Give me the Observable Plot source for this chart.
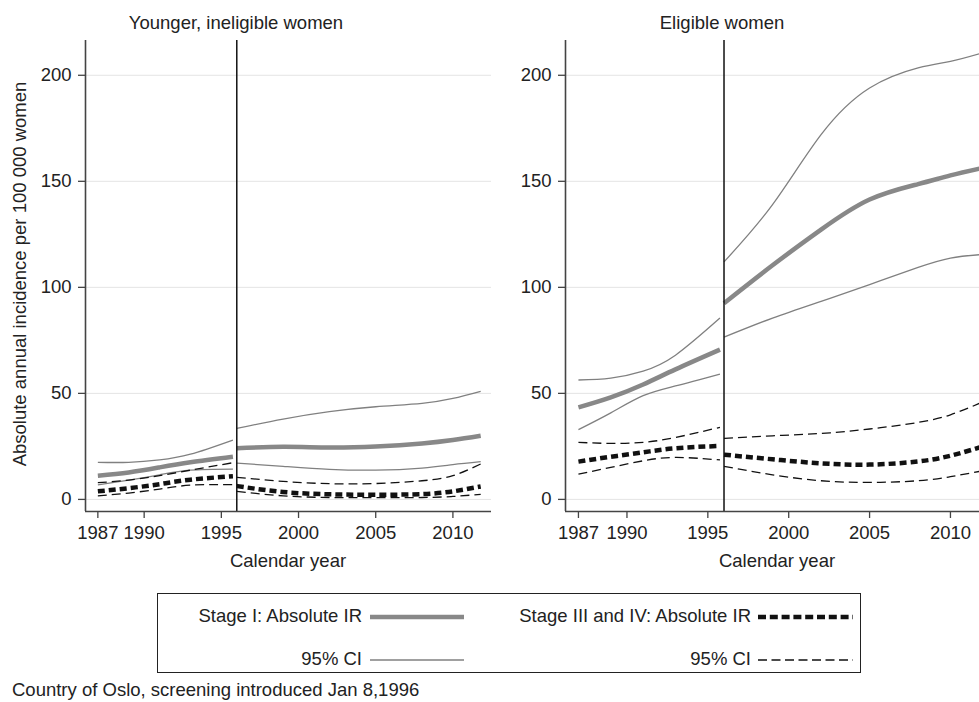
<!DOCTYPE html>
<html>
<head>
<meta charset="utf-8">
<script src="https://cdn.jsdelivr.net/npm/d3@7"></script>
<script src="https://cdn.jsdelivr.net/npm/@observablehq/plot@0.6"></script>
<style>
  html, body { margin: 0; padding: 0; background: #fff; }
  body { width: 979px; height: 702px; overflow: hidden; position: relative;
         font-family: "Liberation Sans", Arial, Helvetica, sans-serif; font-size: 18.5px; color: #222; }
  .abs { position: absolute; white-space: nowrap; }
  .ctr { transform: translate(-50%, -50%); }
  .rt { transform: translate(-100%, -50%); }
  #legend { position: absolute; left: 157px; top: 593px; width: 704px; height: 80px;
            border: 1.5px solid #222; box-sizing: border-box; }
  svg.plot, #left svg, #right svg { background: transparent !important; overflow: visible; max-width: none !important; }
</style>
</head>
<body>
<div id="left" class="abs" style="left:0;top:0;width:491px"></div>
<div id="right" class="abs" style="left:490px;top:0;width:501px"></div>

<div class="abs ctr" style="left:236px;top:23px">Younger, ineligible women</div>
<div class="abs ctr" style="left:722px;top:23px">Eligible women</div>
<div class="abs ctr" style="left:288px;top:561px">Calendar year</div>
<div class="abs ctr" style="left:777px;top:561px">Calendar year</div>
<div class="abs" style="left:20px;top:274px;transform:translate(-50%,-50%) rotate(-90deg)">Absolute annual incidence per 100 000 women</div>

<div class="abs rt" style="left:362px;top:616px">Stage I: Absolute IR</div>
<div class="abs rt" style="left:362px;top:659px">95% CI</div>
<div class="abs rt" style="left:751px;top:616px">Stage III and IV: Absolute IR</div>
<div class="abs rt" style="left:751px;top:659px">95% CI</div>
<svg class="abs" style="left:0;top:0;overflow:visible" width="979" height="702">
  <line x1="370" x2="464" y1="617" y2="617" stroke="#888" stroke-width="4.5"/>
  <line x1="370" x2="464" y1="660" y2="660" stroke="#808080" stroke-width="1.3"/>
  <line x1="758" x2="853" y1="617" y2="617" stroke="#111" stroke-width="4.5" stroke-dasharray="8,3.8"/>
  <line x1="758" x2="853" y1="660" y2="660" stroke="#111" stroke-width="1.3" stroke-dasharray="9,4.5"/>
</svg>
<div id="legend"></div>
<div class="abs" style="left:12px;top:679px">Country of Oslo, screening introduced Jan 8,1996</div>

<script>
// ---- data ----
const years  = [1987, 1989, 1991, 1993, 1995.75, 1996, 1999, 2002, 2005, 2008, 2010, 2011.8];
const period = ["pre","pre","pre","pre","pre","post","post","post","post","post","post","post"];
const xTicks = [1987, 1990, 1995, 2000, 2005, 2010];
const yTicks = [0, 50, 100, 150, 200];
const screeningYear = 1996;

// Younger, ineligible women
const young_stage1_ir  = [11.2, 12.7, 15.1, 17.5, 20.1,   24.1, 24.8, 24.5, 25.0, 26.4, 28.0, 30.0];
const young_stage1_hi  = [17.5, 17.5, 18.6, 21.3, 28.0,   33.5, 37.9, 41.4, 43.7, 45.3, 47.6, 51.0];
const young_stage1_lo  = [ 6.9,  9.1, 11.6, 13.8, 14.3,   17.1, 15.6, 14.2, 13.8, 14.8, 16.4, 17.8];
const young_stage34_ir = [ 3.8,  5.3,  7.2,  9.3, 10.9,    6.3,  3.5,  2.4,  2.2,  2.5,  3.8,  6.1];
const young_stage34_hi = [ 7.9,  9.1, 11.2, 13.8, 17.3,   10.4,  8.5,  7.4,  7.5,  8.8, 11.2, 16.7];
const young_stage34_lo = [ 1.7,  3.0,  4.9,  6.7,  7.0,    3.8,  1.7,  0.9,  0.8,  0.9,  1.4,  2.4];

// Eligible women
const elig_stage1_ir  = [43.4, 48.1, 54.2, 61.3, 70.6,   92.5, 110.4, 127.2, 141.4, 148.7, 152.8, 156.0];
const elig_stage1_hi  = [56.3, 57.2, 60.5, 68.0, 85.5,  112.0, 139.0, 172.0, 194.0, 203.5, 206.6, 210.2];
const elig_stage1_lo  = [32.9, 40.8, 48.9, 53.5, 59.1,   76.5,  85.5,  93.4, 101.3, 109.4, 113.8, 115.4];
const elig_stage34_ir = [17.8, 20.1, 22.2, 24.1, 25.2,   21.1, 18.9, 17.0, 16.4, 17.9, 20.6, 24.5];
const elig_stage34_hi = [26.9, 26.4, 26.9, 29.2, 34.0,   28.8, 30.0, 31.1, 33.2, 36.3, 39.9, 45.3];
const elig_stage34_lo = [11.9, 15.1, 18.2, 19.8, 18.6,   15.6, 11.6,  8.8,  8.0,  8.8, 10.7, 13.2];

// ---- styles ----
const styles = {
  ir1:  {stroke: "#888", strokeWidth: 4.5},
  ci1:  {stroke: "#808080", strokeWidth: 1.3},
  ir34: {stroke: "#111", strokeWidth: 4.5, strokeDasharray: "7,4"},
  ci34: {stroke: "#111", strokeWidth: 1.3, strokeDasharray: "9,5"}
};

function rows(vals) {
  return years.map((x, i) => ({x, y: vals[i], p: period[i]}));
}

function panel(series, opts) {
  const xDom = [1986.2, 2012.5], yDom = [-5.7, 216.4];
  const lineMarks = series.map(([vals, st]) =>
    Plot.line(rows(vals), {x: "x", y: "y", z: "p", curve: "natural", ...st, strokeLinecap: "butt"}));
  return Plot.plot({
    width: opts.width, height: 580,
    marginLeft: opts.marginLeft, marginRight: 0, marginTop: 40, marginBottom: 69,
    style: {fontFamily: "Liberation Sans, Arial, sans-serif", fontSize: "18.5px", color: "#222", background: "transparent", overflow: "visible", maxWidth: "none"},
    x: {domain: xDom},
    y: {domain: yDom},
    marks: [
      Plot.gridY(yTicks, {stroke: "#e4e4e4", strokeOpacity: 1, strokeWidth: 1}),
      ...lineMarks,
      Plot.ruleX([screeningYear], {stroke: "#111", strokeWidth: 1.5}),
      Plot.ruleX([xDom[0]], {stroke: "#444", strokeWidth: 1.6}),
      Plot.ruleY([yDom[0]], {stroke: "#444", strokeWidth: 1.6}),
      Plot.axisY(yTicks, {tickSize: 7, tickPadding: 7, label: null, stroke: "#444", strokeWidth: 1.3}),
      Plot.axisX(xTicks, {tickSize: 7, tickPadding: 7, label: null, tickFormat: d => String(d), stroke: "#444", strokeWidth: 1.3})
    ]
  });
}

document.getElementById("left").appendChild(panel([
  [young_stage1_hi, styles.ci1], [young_stage1_lo, styles.ci1],
  [young_stage34_hi, styles.ci34], [young_stage34_lo, styles.ci34],
  [young_stage1_ir, styles.ir1], [young_stage34_ir, styles.ir34]
], {width: 491, marginLeft: 85}));

document.getElementById("right").appendChild(panel([
  [elig_stage1_hi, styles.ci1], [elig_stage1_lo, styles.ci1],
  [elig_stage34_hi, styles.ci34], [elig_stage34_lo, styles.ci34],
  [elig_stage1_ir, styles.ir1], [elig_stage34_ir, styles.ir34]
], {width: 500.4, marginLeft: 75}));
</script>
</body>
</html>
